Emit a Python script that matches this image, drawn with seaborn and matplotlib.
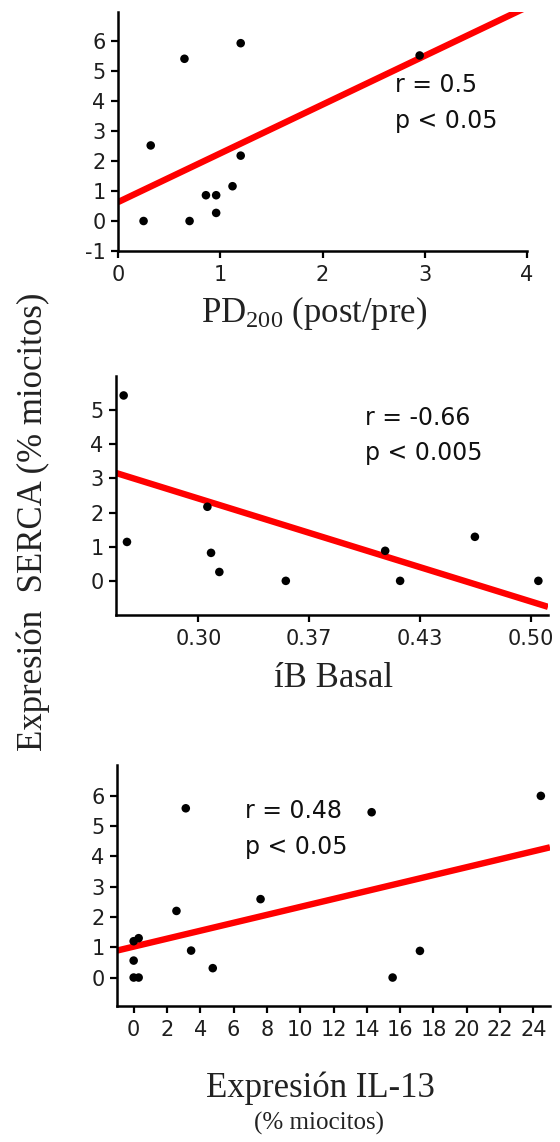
import matplotlib
matplotlib.use("Agg")
import numpy as np
import pandas as pd
import matplotlib.pyplot as plt
import seaborn as sns

# ---- data -------------------------------------------------------------
# SERCA expression (% myocytes) against PD200 ratio (post/pre)
pd200_x = [0.25, 0.32, 0.65, 0.70, 0.86, 0.96, 0.96, 1.12, 1.20, 1.20, 2.95]
pd200_y = [0.00, 2.52, 5.41, 0.00, 0.86, 0.86, 0.27, 1.16, 5.93, 2.18, 5.52]
pd200_fit = (0.63, 1.626)           # intercept, slope
pd200_xticks = [0, 1, 2, 3, 4]
pd200_yticks = [-1, 0, 1, 2, 3, 4, 5, 6]
pd200_stats = ["r = 0.5", "p < 0.05"]

# SERCA expression against basal iB
ib_x = [0.255, 0.257, 0.3054, 0.3076, 0.3126, 0.3526, 0.4124, 0.4214, 0.4664, 0.5046]
ib_y = [5.43, 1.14, 2.17, 0.82, 0.26, 0.00, 0.88, 0.00, 1.29, 0.00]
ib_fit = (6.936, -15.08)
ib_xticks = [0.30, 0.3667, 0.4333, 0.50]
ib_xticklabels = ["0.30", "0.37", "0.43", "0.50"]
ib_yticks = [0, 1, 2, 3, 4, 5]
ib_stats = ["r = -0.66", "p < 0.005"]

# SERCA expression against IL-13 expression (% myocytes)
il13_x = [0.0, 0.3, 0.0, 0.0, 0.3, 2.57, 3.13, 3.45, 4.75, 7.62, 14.29, 15.55, 17.19, 24.45]
il13_y = [1.2, 1.3, 0.56, 0.0, 0.0, 2.20, 5.59, 0.89, 0.31, 2.59, 5.46, 0.00, 0.88, 6.00]
il13_fit = (1.021, 0.1312)
il13_xticks = [0, 2, 4, 6, 8, 10, 12, 14, 16, 18, 20, 22, 24]
il13_yticks = [0, 1, 2, 3, 4, 5, 6]
il13_stats = ["r = 0.48", "p < 0.05"]

# ---- styling ----------------------------------------------------------
W, H = 560, 1142
sns.set_theme(style="ticks")
plt.rcParams["font.family"] = ["DejaVu Sans"]
plt.rcParams["axes.unicode_minus"] = False
plt.rcParams["xtick.labelsize"] = 15
plt.rcParams["ytick.labelsize"] = 15
plt.rcParams["mathtext.fontset"] = "custom"
plt.rcParams["mathtext.rm"] = "Liberation Serif"
plt.rcParams["mathtext.it"] = "Liberation Serif:italic"

fig = plt.figure(figsize=(W / 100, H / 100), dpi=100)
SERIF = ["Liberation Serif", "DejaVu Serif"]
TICK_COLOR = "#1e1e1e"


def px_axes(left, top, right, bottom):
    return fig.add_axes([left / W, 1 - bottom / H, (right - left) / W, (bottom - top) / H])


def panel(ax, xs, ys, fit, xlim, ylim, xticks, yticks, xticklabels=None):
    df = pd.DataFrame({"x": xs, "y": ys})
    sns.scatterplot(data=df, x="x", y="y", ax=ax, color="black", s=38,
                    edgecolor="none", zorder=3)
    b0, b1 = fit
    line = pd.DataFrame({"x": list(xlim)})
    line["y"] = b0 + b1 * line["x"]
    sns.lineplot(data=line, x="x", y="y", ax=ax, color="#ff0000", lw=4.6,
                 solid_capstyle="butt", zorder=2)
    ax.set_xlim(*xlim)
    ax.set_ylim(*ylim)
    ax.set_xticks(xticks)
    if xticklabels is not None:
        ax.set_xticklabels(xticklabels)
    ax.set_yticks(yticks)

    sns.despine(ax=ax)
    for s in ("left", "bottom"):
        ax.spines[s].set_linewidth(1.8)
        ax.spines[s].set_color("black")
    ax.tick_params(axis="both", direction="out", length=5, width=1.6,
                   colors="black", labelcolor=TICK_COLOR, labelsize=15)
    ax.tick_params(axis="x", pad=5)
    ax.tick_params(axis="y", pad=4)
    ax.set_xlabel("")
    ax.set_ylabel("")


def stats_text(lines, x, y1, y2):
    fig.text(x / W, 1 - y1 / H, lines[0], fontsize=17, color="#111111", va="baseline")
    fig.text(x / W, 1 - y2 / H, lines[1], fontsize=17, color="#111111", va="baseline")


# Panel 1: PD200
ax1 = px_axes(118, 12, 527, 251)
panel(ax1, pd200_x, pd200_y, pd200_fit, (0, 4), (-1, 6.97), pd200_xticks, pd200_yticks)
stats_text(pd200_stats, 395, 92, 128)
fig.text(314 / W, 1 - 322 / H, r"PD$_{\mathrm{200}}$ (post/pre)", family=SERIF,
         fontsize=25, color="#222222", ha="center", va="baseline")

# Panel 2: iB basal
ax2 = px_axes(116, 376, 548, 615)
panel(ax2, ib_x, ib_y, ib_fit, (0.2504, 0.5104), (-1, 6), ib_xticks, ib_yticks,
      ib_xticklabels)
stats_text(ib_stats, 365, 425, 460)
fig.text(334 / W, 1 - 687 / H, "íB Basal", family=SERIF,
         fontsize=25, color="#222222", ha="center", va="baseline")

# Panel 3: IL-13
ax3 = px_axes(117, 765, 550, 1006)
panel(ax3, il13_x, il13_y, il13_fit, (-1, 25), (-0.94, 7.02), il13_xticks, il13_yticks)
stats_text(il13_stats, 245, 818, 854)
fig.text(320 / W, 1 - 1097 / H, "Expresión IL-13", family=SERIF,
         fontsize=25, color="#222222", ha="center", va="baseline")
fig.text(319 / W, 1 - 1130 / H, "(% miocitos)", family=SERIF,
         fontsize=18, color="#222222", ha="center", va="baseline")

# Shared y label
fig.text(42 / W, 1 - 522 / H, "Expresión  SERCA (% miocitos)", family=SERIF,
         fontsize=25, color="#222222", rotation=90, rotation_mode="anchor",
         ha="center", va="baseline")

fig.savefig("out.png", dpi=100)
